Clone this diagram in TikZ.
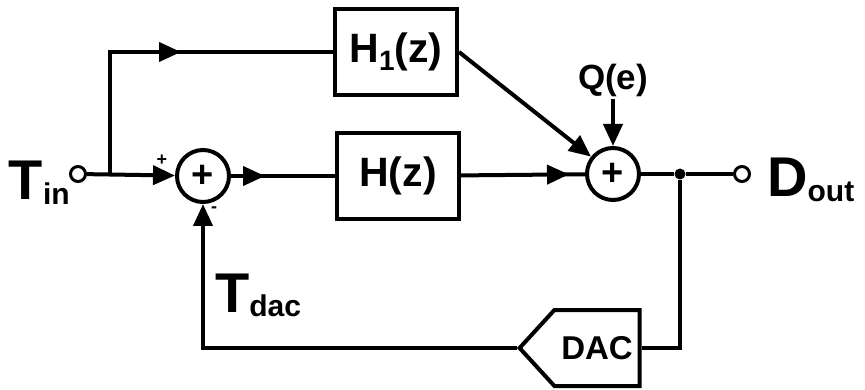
\documentclass[tikz,border=0pt]{standalone}
\usepackage{fontspec}
\setmainfont{Liberation Sans}
\usetikzlibrary{arrows.meta,shapes.symbols,decorations.markings}

\newcommand{\fs}[1]{\fontsize{#1}{#1}\selectfont}
% big letter with a lowered subscript
\newcommand{\sig}[2]{{\fs{56}#1}\raisebox{-5pt}{\fs{30}#2}}

\tikzset{
  wire/.style={line width=4pt},
  blk/.style={draw,line width=4pt,minimum width=122pt,minimum height=86pt,inner sep=0pt,font=\bfseries\fs{41}},
  sumc/.style={circle,draw,line width=4pt,minimum size=52pt,inner sep=0pt,font=\bfseries\fs{38}},
  term/.style={circle,draw,line width=3pt,minimum size=15pt,inner sep=0pt,fill=white},
  dot/.style={circle,fill,minimum size=11pt,inner sep=0pt},
  dac/.style={signal,signal to=west,signal pointer angle=95,draw,line width=4pt,minimum width=120pt,minimum height=76pt,inner sep=0pt,font=\bfseries\fs{33}},
  lbl/.style={inner sep=2pt,font=\bfseries},
  sgn/.style={inner sep=0pt,font=\bfseries\fs{18}},
  midarrow/.style={postaction={decorate},decoration={markings,mark=at position #1 with {\arrow{>}}}}
}

\begin{document}
\begin{tikzpicture}[x=1pt,y=-1pt,>={Triangle[length=22pt,width=19pt]}]
\useasboundingbox (0,0) rectangle (865,390);

% blocks
\node[term] (tin) at (78,174) {};
\coordinate (j1) at (110,174);
\node[sumc] (sum1) at (203,176) {+};
\node[blk] (h1) at (396,52) {H\raisebox{-8pt}{\fs{28}1}(z)};
\node[blk] (h) at (398,176) {H(z)};
\node[sumc] (sum2) at (613,174) {+};
\node[dot] (j2) at (680,174) {};
\node[term] (dout) at (742,174) {};
\node[dac] (dac) at (597,348) {DAC};

% labels
\node[lbl,anchor=base east] (tinl) at (72,200) {\sig{T}{in}};
\node[lbl,anchor=base west] (doutl) at (765,197) {\sig{D}{out}};
\node[lbl,anchor=base west] (tdac) at (213,312) {\sig{T}{dac}};
\node[lbl,anchor=base,font=\bfseries\fs{35}] (q) at (613,90) {Q(e)};
\node[sgn] (plus) at (162,160) {+};
\node[sgn] (minus) at (214,210) {-};

% forward paths
\draw[wire,->] (tin) -- (sum1);
\draw[wire,midarrow=193pt] (j1) |- (h1);
\draw[wire,midarrow=34pt] (sum1) -- (h);
\draw[wire,midarrow=108pt] (h) -- (sum2);
\draw[wire,->] (h1.east) -- (sum2);
\draw[wire,->] (q) -- (sum2);
\draw[wire] (sum2) -- (j2) -- (dout);

% feedback through the DAC
\draw[wire] (j2) |- (dac);
\draw[wire,->] (dac) -| (sum1);
\end{tikzpicture}
\end{document}
